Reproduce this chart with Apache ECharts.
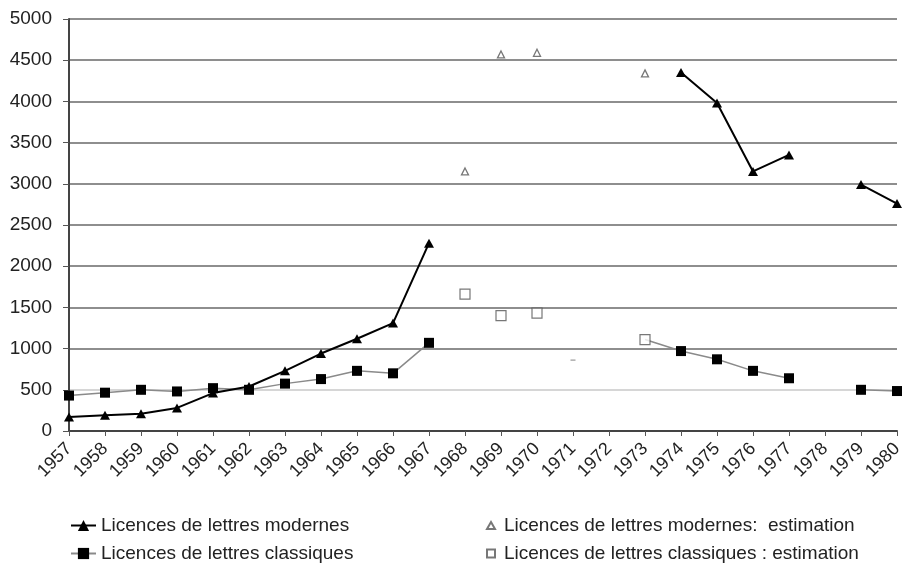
<!DOCTYPE html>
<html><head><meta charset="utf-8">
<script src="https://cdn.jsdelivr.net/npm/echarts@6.0.0/dist/echarts.min.js"></script>
<style>html,body{margin:0;padding:0;background:#fff}#c{width:906px;height:565px}</style>
</head><body><div id="c"></div>
<script>
const years = ['1957','1958','1959','1960','1961','1962','1963','1964','1965','1966','1967','1968','1969','1970','1971','1972','1973','1974','1975','1976','1977','1978','1979','1980'];
const modernes = [170,190,210,280,460,540,730,940,1120,1310,2280,null,null,null,null,null,null,4350,3980,3150,3350,null,2990,2760];
const modernesEstimation = [null,null,null,null,null,null,null,null,null,null,null,3150,4570,4590,null,null,4340,null,null,null,null,null,null,null];
const classiques = [430,465,500,480,520,500,575,630,730,700,1070,null,null,null,null,null,1110,970,870,730,640,null,500,485];
const classiquesEstimation = [null,null,null,null,null,null,null,null,null,null,null,1660,1400,1430,860,null,1110,null,null,null,null,null,null,null];
const yTicks = [0,500,1000,1500,2000,2500,3000,3500,4000,4500,5000];

const FONT = "'Liberation Sans', Arial, sans-serif";
const nameM = 'Licences de lettres modernes';
const nameC = 'Licences de lettres classiques';
const nameME = 'Licences de lettres modernes:  estimation';
const nameCE = 'Licences de lettres classiques : estimation';

const chart = echarts.init(document.getElementById('c'));
const gridColors = yTicks.map(v => v === 500 ? '#d6d6d6' : '#8e8e8e');

const classiquesData = classiques.map((v, i) =>
  (v != null && classiquesEstimation[i] != null) ? {value: v, symbol: 'none'} : v);
const dashIdx = years.indexOf('1971');
const classiquesEstData = classiquesEstimation.map((v, i) =>
  (i === dashIdx && v != null) ? {value: v, symbol: 'rect', symbolSize: [5, 1.5], itemStyle: {color: '#999', borderWidth: 0}} : v);

const legendText = {fontSize: 19, color: '#222', fontFamily: FONT};
chart.setOption({
  animation: false,
  backgroundColor: '#fff',
  grid: {left: 69, right: 9, top: 19, bottom: 134, containLabel: false},
  legend: [
    {data: [nameM], left: 65, top: 511, itemWidth: 25, itemHeight: 14, selectedMode: false, textStyle: legendText},
    {data: [nameC], left: 65, top: 539, itemWidth: 25, itemHeight: 14, selectedMode: false, textStyle: legendText},
    {data: [{name: nameME, icon: 'triangle'}], left: 481, top: 511, itemWidth: 8, itemHeight: 7, selectedMode: false, textStyle: Object.assign({padding: [0,0,0,4]}, legendText)},
    {data: [{name: nameCE, icon: 'rect'}], left: 481, top: 539, itemWidth: 8, itemHeight: 8, selectedMode: false, textStyle: Object.assign({padding: [0,0,0,4]}, legendText)}
  ],
  xAxis: {
    type: 'category', data: years, boundaryGap: false,
    axisLine: {lineStyle: {color: '#444', width: 2}},
    axisTick: {show: true, interval: 0, length: 5, lineStyle: {color: '#555', width: 1}},
    axisLabel: {interval: 0, rotate: 45, margin: 15, fontSize: 18, color: '#222', fontFamily: FONT},
    splitLine: {show: false}
  },
  yAxis: {
    type: 'value', min: 0, max: 5000, interval: 500,
    axisLine: {show: true, lineStyle: {color: '#444', width: 2}},
    axisTick: {show: true, length: 6, lineStyle: {color: '#555', width: 1}},
    axisLabel: {margin: 17, fontSize: 19, color: '#222', fontFamily: FONT, formatter: v => String(v)},
    splitLine: {show: true, lineStyle: {color: gridColors, width: 2}}
  },
  series: [
    {name: nameC, type: 'line', data: classiquesData, connectNulls: false,
     symbol: 'rect', symbolSize: 10, z: 3,
     lineStyle: {color: '#8a8a8a', width: 1.5}, itemStyle: {color: '#000'}},
    {name: nameM, type: 'line', data: modernes, connectNulls: false,
     symbol: 'triangle', symbolSize: [10, 9], z: 4,
     lineStyle: {color: '#000', width: 2}, itemStyle: {color: '#000'}},
    {name: nameME, type: 'scatter', data: modernesEstimation,
     symbol: 'triangle', symbolSize: [7, 7], z: 5,
     itemStyle: {color: '#fff', borderColor: '#555', borderWidth: 1.3}},
    {name: nameCE, type: 'scatter', data: classiquesEstData,
     symbol: 'rect', symbolSize: 10, z: 5,
     itemStyle: {color: '#fff', borderColor: '#555', borderWidth: 1.2}}
  ]
});
</script></body></html>
